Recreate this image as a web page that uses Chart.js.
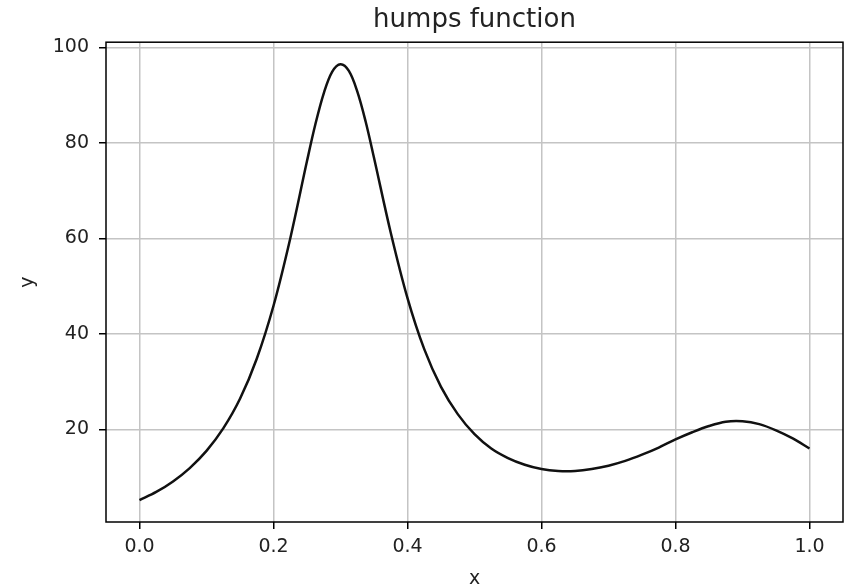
<!DOCTYPE html>
<html lang="en">
<head>
    <meta charset="UTF-8">
    <title>humps function</title>
    <style>
        body {
            margin: 0;
            background: #fff;
        }
        #wrap {
            width: 850px;
            height: 587px;
        }
    </style>
    <script src="https://cdn.jsdelivr.net/npm/chart.js"></script>
</head>
<body>

<div id="wrap"><canvas id="humpsChart" width="850" height="587"></canvas></div>

<script>
    // sample points of the curve
    const xValues = [
        0.0, 0.025, 0.05, 0.075, 0.1, 0.125, 0.15, 0.175, 0.2, 0.225,
        0.25, 0.2625, 0.275, 0.2875, 0.3, 0.3125, 0.325, 0.3375, 0.35, 0.375,
        0.4, 0.425, 0.45, 0.475, 0.5, 0.525, 0.55, 0.575, 0.6, 0.625,
        0.65, 0.675, 0.7, 0.725, 0.75, 0.775, 0.8, 0.825, 0.85, 0.875,
        0.9, 0.925, 0.95, 0.975, 1.0
    ];
    const yValues = [
        5.2, 6.9, 9.1, 11.9, 15.5, 20.2, 26.4, 34.8, 45.9, 60.0,
        76.2, 83.9, 90.4, 94.9, 96.5, 95.1, 90.8, 84.5, 76.9, 61.2,
        47.5, 36.8, 28.9, 23.2, 19.0, 16.0, 14.0, 12.6, 11.7, 11.3,
        11.3, 11.7, 12.4, 13.4, 14.7, 16.2, 17.9, 19.4, 20.7, 21.6,
        21.7, 21.1, 19.8, 18.1, 16.0
    ];
    const xTicks = [0.0, 0.2, 0.4, 0.6, 0.8, 1.0];
    const yTicks = [20, 40, 60, 80, 100];

    const points = xValues.map((x, i) => ({ x: x, y: yValues[i] }));
    const textColor = '#222';
    const fontFamily = '"DejaVu Sans", sans-serif';

    // box around the plot area, like matplotlib spines
    const frame = {
        id: 'frame',
        afterDraw(chart) {
            const a = chart.chartArea;
            const ctx = chart.ctx;
            ctx.save();
            ctx.strokeStyle = '#000';
            ctx.lineWidth = 1.5;
            ctx.strokeRect(a.left, a.top, a.right - a.left, a.bottom - a.top);
            ctx.restore();
        }
    };

    new Chart(document.getElementById('humpsChart'), {
        type: 'line',
        data: {
            datasets: [{
                data: points,
                borderColor: '#111',
                borderWidth: 2.5,
                pointRadius: 0,
                tension: 0.35,
                fill: false
            }]
        },
        options: {
            responsive: false,
            animation: false,
            layout: {
                padding: { left: 0, right: 7, top: 0, bottom: 0 }
            },
            plugins: {
                legend: { display: false },
                tooltip: { enabled: false },
                title: {
                    display: true,
                    text: 'humps function',
                    fullSize: false,
                    color: textColor,
                    font: { family: fontFamily, size: 26, weight: 'normal' },
                    padding: { top: 5, bottom: 6 }
                }
            },
            scales: {
                x: {
                    type: 'linear',
                    min: -0.05,
                    max: 1.05,
                    afterFit(scale) { scale.height = 65; },
                    afterBuildTicks(scale) {
                        scale.ticks = xTicks.map(v => ({ value: v }));
                    },
                    ticks: {
                        color: textColor,
                        font: { family: fontFamily, size: 19 },
                        padding: 7,
                        maxRotation: 0,
                        callback: v => v.toFixed(1)
                    },
                    grid: {
                        color: '#c4c4c4',
                        lineWidth: 1.5,
                        tickColor: '#000',
                        tickLength: 7,
                        tickWidth: 1.5
                    },
                    border: { display: false },
                    title: {
                        display: true,
                        text: 'x',
                        color: textColor,
                        font: { family: fontFamily, size: 19 },
                        padding: { top: 0, bottom: -3 }
                    }
                },
                y: {
                    type: 'linear',
                    min: 0.6,
                    max: 101.1,
                    afterFit(scale) { scale.width = 106; },
                    afterBuildTicks(scale) {
                        scale.ticks = yTicks.map(v => ({ value: v }));
                    },
                    ticks: {
                        color: textColor,
                        font: { family: fontFamily, size: 19 },
                        padding: 10
                    },
                    grid: {
                        color: '#c4c4c4',
                        lineWidth: 1.5,
                        tickColor: '#000',
                        tickLength: 7,
                        tickWidth: 1.5
                    },
                    border: { display: false },
                    title: {
                        display: true,
                        text: 'y',
                        color: textColor,
                        font: { family: fontFamily, size: 19 },
                        padding: { top: 17 }
                    }
                }
            }
        },
        plugins: [frame]
    });
</script>

</body>
</html>
